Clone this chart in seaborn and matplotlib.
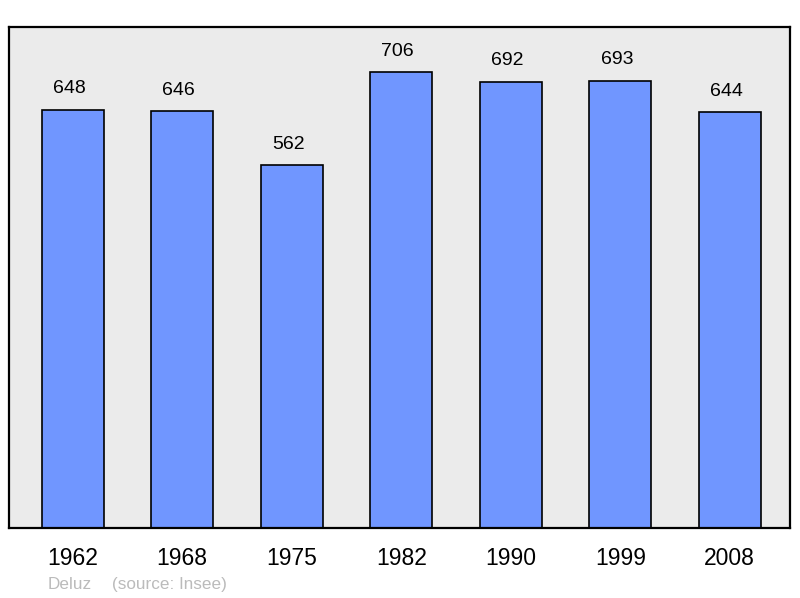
import matplotlib
matplotlib.use("Agg")
import matplotlib.pyplot as plt
import seaborn as sns
import pandas as pd

# population by census year
years = ["1962", "1968", "1975", "1982", "1990", "1999", "2008"]
population = [648, 646, 562, 706, 692, 693, 644]

df = pd.DataFrame({"year": years, "population": population})

sns.set_style("white")
plt.rcParams["font.family"] = ["Liberation Sans", "DejaVu Sans"]
plt.rcParams["text.color"] = "black"
plt.rcParams["xtick.color"] = "black"

fig = plt.figure(figsize=(8, 5.98), dpi=100)
ax = fig.add_axes([0.0115, 0.117, 0.976, 0.838])
ax.set_facecolor("#ebebeb")

sns.barplot(data=df, x="year", y="population", color="#7096ff", saturation=1,
            width=0.57, edgecolor="black", linewidth=1.2, ax=ax)

# value labels on top of each bar (sit a touch left of centre in the original)
for i, v in enumerate(population):
    ax.annotate(str(v), (i, v), xytext=(-2.5, 9), textcoords="offset points",
                ha="center", va="bottom", fontsize=14, color="black")

ax.set_xlim(-0.58, 6.55)
ax.set_ylim(0, max(population) * 1.1)
ax.set_yticks([])
ax.set_xlabel("")
ax.set_ylabel("")
ax.tick_params(axis="x", length=0, pad=14, labelsize=16.5, labelcolor="black")
for s in ax.spines.values():
    s.set_visible(True)
    s.set_color("black")
    s.set_linewidth(1.6)

fig.text(0.06, 0.015, "Deluz", color="#bbbbbb", fontsize=12.3)
fig.text(0.14, 0.015, "(source: Insee)", color="#bbbbbb", fontsize=12.3)

fig.savefig("out.png", dpi=100)
